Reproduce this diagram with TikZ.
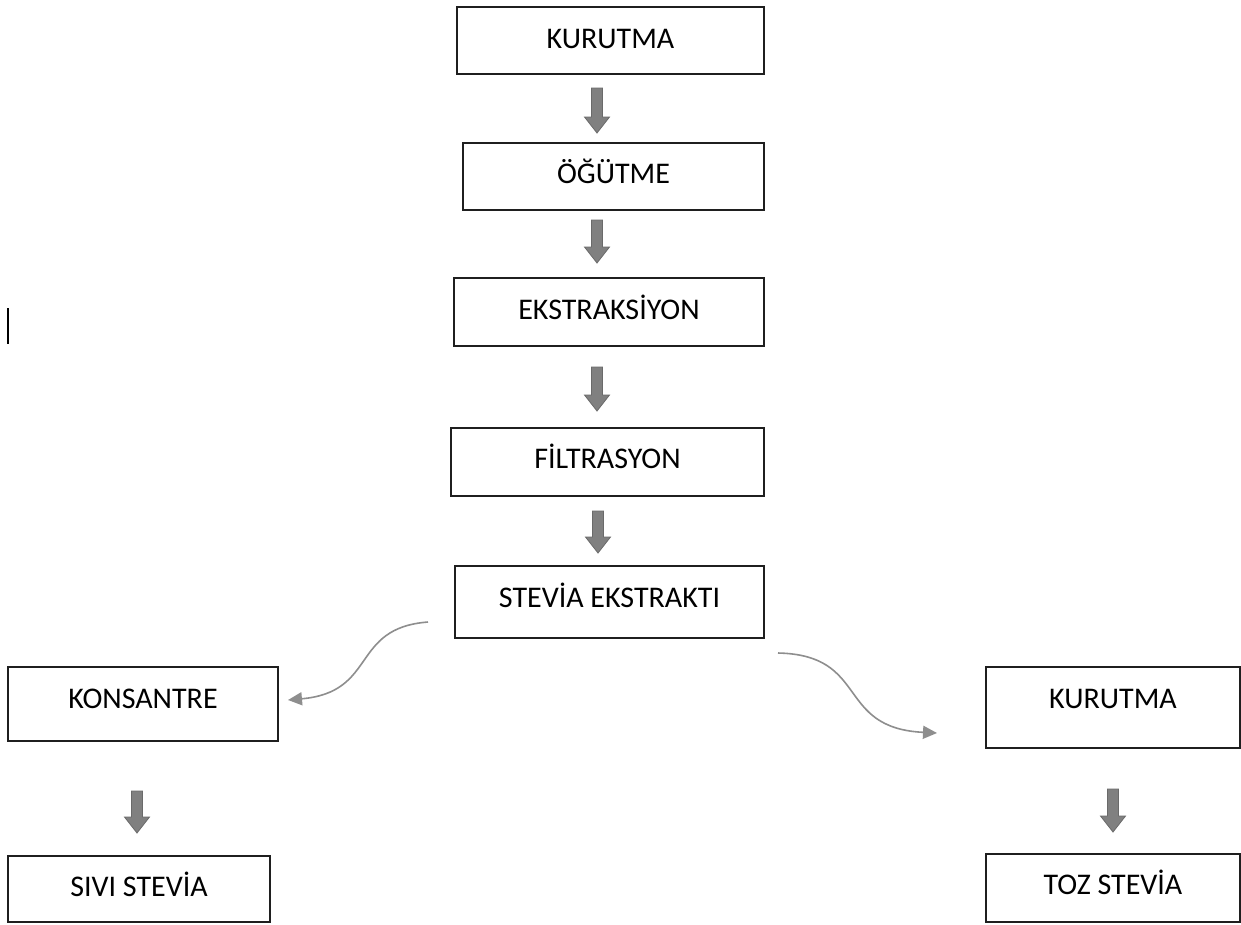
\documentclass[tikz,border=0pt]{standalone}
\usepackage{fontspec}
\setmainfont{Carlito}
\usetikzlibrary{arrows.meta}
\definecolor{arrowgray}{HTML}{808080}
\definecolor{arrowedge}{HTML}{6A6A6A}
\definecolor{curvegray}{HTML}{8E8E8E}
\newcommand\blockarrow[3]{%
  \fill[arrowgray,draw=arrowedge,line width=0.8pt]
    (#1-5.5,#2) -- (#1+5.5,#2) -- (#1+5.5,#3-16) -- (#1+12.5,#3-16) -- (#1,#3)
    -- (#1-12.5,#3-16) -- (#1-5.5,#3-16) -- cycle;}
\begin{document}
\begin{tikzpicture}[x=1pt,y=-1pt,
  box/.style={draw=black!88,line width=2pt,rectangle,inner sep=0pt,
    font=\fontsize{30}{35}\selectfont,text height=19.3pt},
  tup/.style={text depth=#1},
  curvearrow/.style={draw=curvegray,line width=1.6pt,
    -{Triangle[length=14pt,width=13pt,fill=curvegray]}}]
\useasboundingbox (0,0) rectangle (1241,924);
\fill[white] (0,0) rectangle (1241,924);
% main column
\node[box,tup=4pt,minimum width=307pt,minimum height=67pt] (b1) at (610.5,40.5) {KURUTMA};
\node[box,tup=6pt,minimum width=301pt,minimum height=67pt] (b2) at (613.5,176.5) {ÖĞÜTME};
\node[box,tup=5pt,minimum width=310pt,minimum height=68pt] (b3) at (609,312) {EKSTRAKSİYON};
\node[box,tup=6pt,minimum width=313pt,minimum height=68pt] (b4) at (607.5,462) {FİLTRASYON};
\node[box,tup=9pt,minimum width=309pt,minimum height=72pt] (b5) at (609.5,602) {STEVİA EKSTRAKTI};
% left branch
\node[box,tup=10pt,minimum width=270pt,minimum height=74pt] (l1) at (143,704) {KONSANTRE};
\node[box,tup=5pt,minimum width=262pt,minimum height=66pt] (l2) at (139,889) {SIVI STEVİA};
% right branch
\node[box,tup=18pt,minimum width=254pt,minimum height=81pt] (r1) at (1113,707.5) {KURUTMA};
\node[box,tup=6pt,minimum width=254pt,minimum height=68pt] (r2) at (1113,888) {TOZ STEVİA};
% block arrows
\blockarrow{597}{88}{133}
\blockarrow{597}{220}{263}
\blockarrow{597}{367}{411}
\blockarrow{598}{511}{553}
\blockarrow{137}{791}{833}
\blockarrow{1113}{789}{832}
% curved arrows
\coordinate (cl0) at (428,622);
\coordinate (cl1) at (288,700);
\coordinate (cr0) at (778,653);
\coordinate (cr1) at (937,733);
\draw[curvearrow] (cl0) .. controls (350,628) and (378,692) .. (cl1);
\draw[curvearrow] (cr0) .. controls (870,655) and (835,728) .. (cr1);
% stray cursor mark
\coordinate (m0) at (8,308);
\coordinate (m1) at (8,344);
\draw[black,line width=1.8pt] (m0) -- (m1);
\end{tikzpicture}
\end{document}
